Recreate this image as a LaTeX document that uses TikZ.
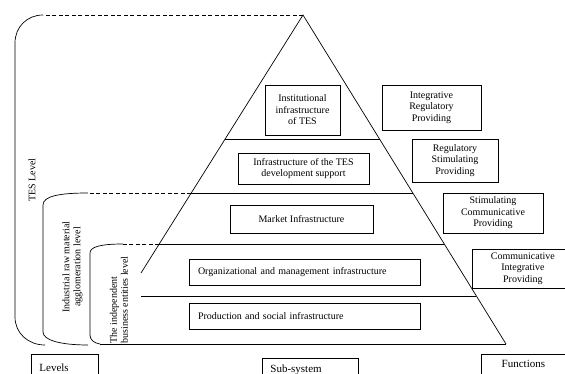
\documentclass[tikz,border=0pt]{standalone}
\usepackage{amsmath}
\usepackage{tikz}
\usepackage{xcolor}
\usepackage{fontspec}
\setmainfont{Liberation Serif}

\begin{document}
\begin{tikzpicture}[x=1pt,y=-1pt]%
  \tikzstyle{boxn}=[rectangle,draw,line width=0.8pt,inner sep=2,align=center,font=\fontsize{10}{11.5}\selectfont]
  \tikzstyle{boxl}=[boxn,text width=213,inner xsep=9,align=left]
  \tikzstyle{botn}=[rectangle,draw,line width=0.8pt,anchor=north west,font=\fontsize{11}{13}\selectfont]
  \tikzstyle{rotn}=[rotate=90,inner sep=0,font=\fontsize{10}{11}\selectfont]
  \tikzstyle{lvl}=[line width=0.7pt]
  \tikzstyle{dsh}=[line width=0.7pt,dash pattern=on 4pt off 2.5pt]
  \useasboundingbox (0,0) rectangle (565,374);
  % pyramid
  \coordinate(apex) at (303,15);
  \coordinate(lend) at (141,273);
  \coordinate(rend) at (506,344);
  \draw[lvl] (lend) -- (apex) -- (rend);
  \draw[lvl] (225,139) -- (380,139);
  \draw[lvl] (191,193) -- (413,193);
  \draw[lvl] (159,244) -- (444,244);
  \draw[lvl] (141,296) -- (476,296);
  \draw[lvl] (100,344) -- (rend);
  % levels
  \draw[dsh] (apex) -- (43,15);
  \draw[lvl] (43,15) .. controls (27,15) and (15,27) .. (15,43) -- (15,317)
    .. controls (15,333) and (28,345) .. (45,345);
  \draw[dsh] (191,193) -- (88,193);
  \draw[lvl] (88,193) .. controls (60,193) and (43,196) .. (43,205) -- (43,332)
    .. controls (43,340) and (60,345) .. (88,345);
  \draw[dsh] (159,244) -- (123,244);
  \draw[lvl] (123,244) .. controls (100,244) and (90,247) .. (90,253) -- (90,335)
    .. controls (90,340) and (94,343) .. (100,344);
  \node(tesl)[rotn] at (32,180) {TES Level};
  \node(indl)[rotn,align=center] at (72.5,267) {Industrial raw material\\agglomeration level};
  \node(indp)[rotn,align=left] at (119,300) {The independent\\business entities level};
  % sub-systems
  \node(inst)[boxn,minimum width=75,minimum height=50] at (302.5,110) {Institutional\\infrastructure\\of TES};
  \node(devs)[boxn,minimum width=131,minimum height=31] at (303.5,168.5) {Infrastructure of the TES\\development support};
  \node(mark)[boxn,minimum width=143,minimum height=28] at (301.5,219) {Market Infrastructure};
  \node(orgm)[boxl,minimum height=26] at (304.5,272) {Organizational and management infrastructure};
  \node(prod)[boxl,minimum height=26] at (304.5,316) {Production and social infrastructure};
  % functions
  \node(intf)[boxn,minimum width=99,minimum height=45] at (431.5,107.5) {Integrative\\Regulatory\\Providing};
  \node(regf)[boxn,minimum width=86,minimum height=43] at (455,160.5) {Regulatory\\Stimulating\\Providing};
  \node(stimf)[boxn,minimum width=100,minimum height=40] at (493,213) {Stimulating\\Communicative\\Providing};
  \node(comf)[boxn,minimum width=101,minimum height=39,anchor=west] at (472,268.5) {Communicative\\Integrative\\Providing};
  % captions
  \node(levs)[botn,minimum height=26,text width=51,inner xsep=8,align=left] at (31,354) {Levels};
  \node(subs)[botn,minimum height=22,text width=80,inner xsep=8,align=left] at (262,358) {Sub-system};
  \node(func)[botn,minimum width=84,minimum height=20] at (481,354) {Functions};
\end{tikzpicture}
\end{document}
